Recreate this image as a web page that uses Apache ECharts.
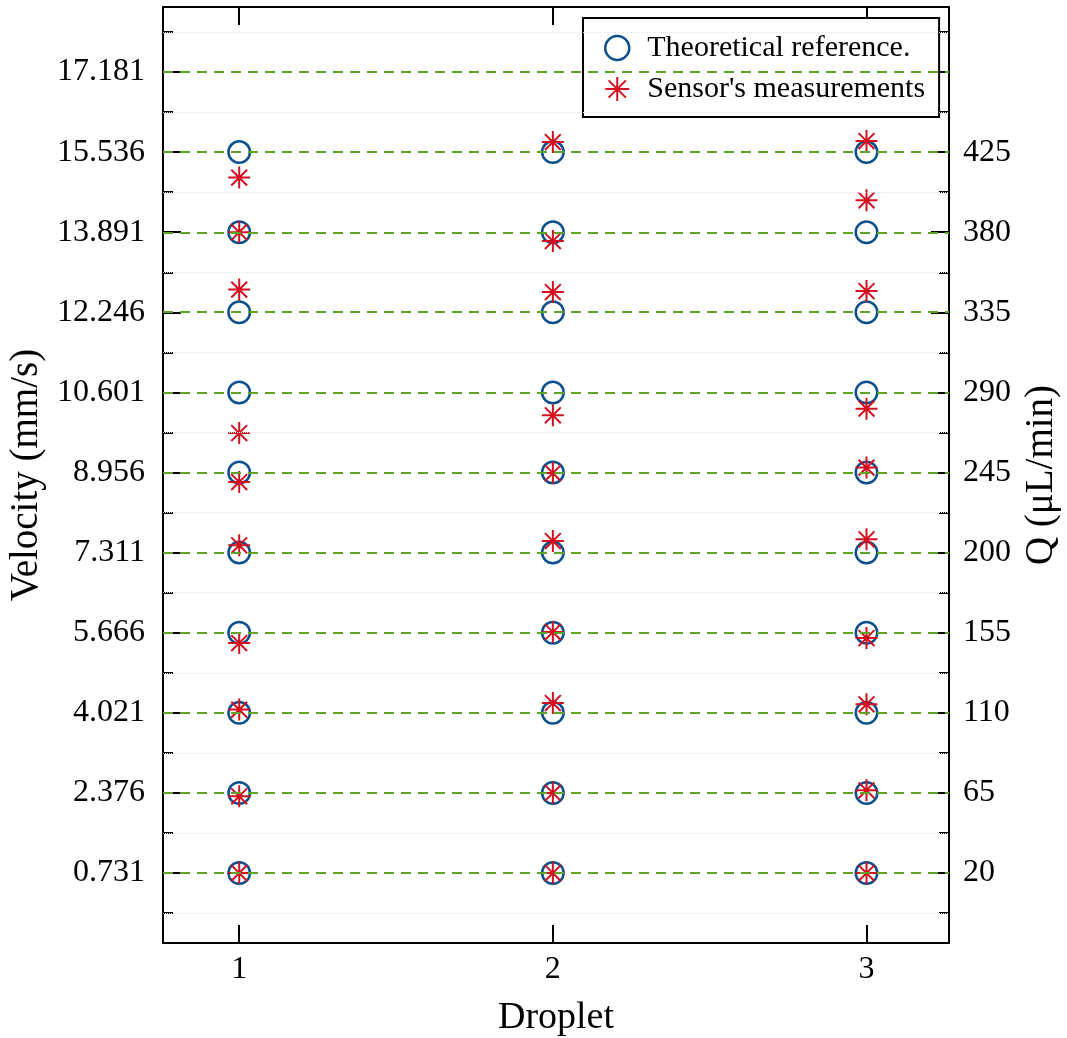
<!DOCTYPE html>
<html>
<head>
<meta charset="utf-8">
<script src="https://cdn.jsdelivr.net/npm/echarts@6/dist/echarts.min.js"></script>
<style>html,body{margin:0;padding:0;background:#fff}#chart{width:1067px;height:1038px}</style>
</head>
<body>
<div id="chart"></div>
<script>
// ---- data ----
const droplets = [1, 2, 3];
const velocityTicks = [0.731, 2.376, 4.021, 5.666, 7.311, 8.956, 10.601, 12.246, 13.891, 15.536, 17.181];
const flowTicks = [20, 65, 110, 155, 200, 245, 290, 335, 380, 425];
const theoreticalVelocity = [0.731, 2.376, 4.021, 5.666, 7.311, 8.956, 10.601, 12.246, 13.891, 15.536];
const sensorDroplet1 = [0.731, 2.306, 4.087, 5.454, 7.461, 8.761, 9.767, 12.712, 13.891, 15.012];
const sensorDroplet2 = [0.731, 2.376, 4.222, 5.680, 7.549, 8.946, 10.131, 12.663, 13.710, 15.743];
const sensorDroplet3 = [0.731, 2.430, 4.196, 5.557, 7.584, 9.057, 10.268, 12.683, 14.546, 15.764];
const sensorSeries = [sensorDroplet1, sensorDroplet2, sensorDroplet3];

// ---- axis ranges ----
const velMin = -0.706, velMax = 18.516;
const xMin = 0.757, xMax = 3.263;
const step = velocityTicks[1] - velocityTicks[0];
const velocityMinor = [velocityTicks[0] - step / 2].concat(velocityTicks.map(v => v + step / 2));
const k = (velocityTicks[9] - velocityTicks[0]) / (flowTicks[9] - flowTicks[0]);
const toQ = v => flowTicks[0] + (v - velocityTicks[0]) / k;
const qMin = toQ(velMin), qMax = toQ(velMax);
const flowTickAll = velocityTicks.map(toQ);
const flowMinor = velocityMinor.map(toQ);

const theoData = [], sensorData = [];
droplets.forEach((d, i) => {
  theoreticalVelocity.forEach(v => theoData.push([d, v]));
  sensorSeries[i].forEach(v => sensorData.push([d, v]));
});

const FONT = 'Liberation Serif';
const BLUE = '#0b4f8c', RED = '#d2101f', GREEN = '#5ea226';
const STAR = 'path://M0,-1L0,1M-1,0L1,0M-0.72,-0.72L0.72,0.72M-0.72,0.72L0.72,-0.72';

const axisLine = {show: true, onZero: false, lineStyle: {color: '#000', width: 2}};
const majorTick = vals => ({show: true, inside: true, length: 18, customValues: vals, lineStyle: {color: '#000', width: 2}});
const minorTickAx = vals => ({show: true, inside: true, length: 10, customValues: vals, lineStyle: {color: '#000', width: 2}});

const chart = echarts.init(document.getElementById('chart'), null, {renderer: 'canvas'});
chart.setOption({
  animation: false,
  backgroundColor: '#fff',
  textStyle: {fontFamily: FONT},
  grid: {left: 163, right: 118, top: 7, bottom: 95, outerBoundsMode: 'none'},
  legend: {
    left: 583, top: 18, orient: 'vertical',
    padding: [15, 14, 13, 21],
    itemWidth: 50, itemHeight: 24, itemGap: 11,
    borderColor: '#000', borderWidth: 2, backgroundColor: '#fff',
    textStyle: {fontSize: 30, color: '#000', fontFamily: FONT},
    data: [
      {name: 'Theoretical reference.', icon: 'circle', itemStyle: {color: 'transparent', borderColor: BLUE, borderWidth: 2.5}},
      {name: "Sensor's measurements", icon: STAR, itemStyle: {color: 'transparent', borderColor: RED, borderWidth: 2}}
    ]
  },
  xAxis: [
    {type: 'value', min: xMin, max: xMax, position: 'bottom',
     axisLine: axisLine, axisTick: majorTick(droplets),
     axisLabel: {customValues: droplets, fontSize: 32, color: '#000', margin: 11, fontFamily: FONT},
     splitLine: {show: false},
     name: 'Droplet', nameLocation: 'middle', nameGap: 56,
     nameTextStyle: {fontSize: 38, color: '#000', fontFamily: FONT}},
    {type: 'value', min: xMin, max: xMax, position: 'top',
     axisLine: axisLine, axisTick: majorTick(droplets),
     axisLabel: {show: false}, splitLine: {show: false}}
  ],
  yAxis: [
    {type: 'value', min: velMin, max: velMax, position: 'left',
     axisLine: axisLine, axisTick: majorTick(velocityTicks),
     axisLabel: {customValues: velocityTicks, formatter: v => v.toFixed(3), fontSize: 32, color: '#000', margin: 18, fontFamily: FONT},
     splitLine: {show: false},
     name: 'Velocity (mm/s)', nameLocation: 'middle', nameRotate: 90, nameGap: 112,
     nameTextStyle: {fontSize: 39, color: '#000', fontFamily: FONT}},
    {type: 'value', min: qMin, max: qMax, position: 'right',
     axisLine: axisLine, axisTick: majorTick(flowTickAll),
     axisLabel: {customValues: flowTicks, formatter: v => String(Math.round(v)), fontSize: 32, color: '#000', margin: 14, fontFamily: FONT},
     splitLine: {show: false},
     name: 'Q (μL/min)', nameLocation: 'middle', nameRotate: 90, nameGap: 73,
     nameTextStyle: {fontSize: 39, color: '#000', fontFamily: FONT}},
    {type: 'value', min: velMin, max: velMax, position: 'left',
     axisLine: {show: false, onZero: false}, axisTick: minorTickAx(velocityMinor),
     axisLabel: {show: false}, splitLine: {show: false}},
    {type: 'value', min: qMin, max: qMax, position: 'right',
     axisLine: {show: false, onZero: false}, axisTick: minorTickAx(flowMinor),
     axisLabel: {show: false}, splitLine: {show: false}}
  ],
  series: [
    {type: 'line', data: [], xAxisIndex: 0, yAxisIndex: 0, silent: true, z: 1,
     markLine: {silent: true, symbol: ['none', 'none'], label: {show: false}, animation: false,
       lineStyle: {color: '#e4e4e4', type: 'dotted', width: 1},
       data: velocityMinor.map(v => ({yAxis: v}))}},
    {type: 'line', data: [], xAxisIndex: 0, yAxisIndex: 0, silent: true, z: 1,
     markLine: {silent: true, symbol: ['none', 'none'], label: {show: false}, animation: false,
       lineStyle: {color: GREEN, type: [10, 7], width: 2},
       data: velocityTicks.map(v => ({yAxis: v}))}},
    {name: 'Theoretical reference.', type: 'scatter', xAxisIndex: 0, yAxisIndex: 0, z: 3,
     symbol: 'circle', symbolSize: 21.5,
     itemStyle: {color: 'transparent', borderColor: BLUE, borderWidth: 2.5, opacity: 1},
     data: theoData},
    {name: "Sensor's measurements", type: 'scatter', xAxisIndex: 0, yAxisIndex: 0, z: 4,
     symbol: STAR, symbolSize: 22,
     itemStyle: {color: 'transparent', borderColor: RED, borderWidth: 2, opacity: 1},
     data: sensorData}
  ]
});
</script>
</body>
</html>
